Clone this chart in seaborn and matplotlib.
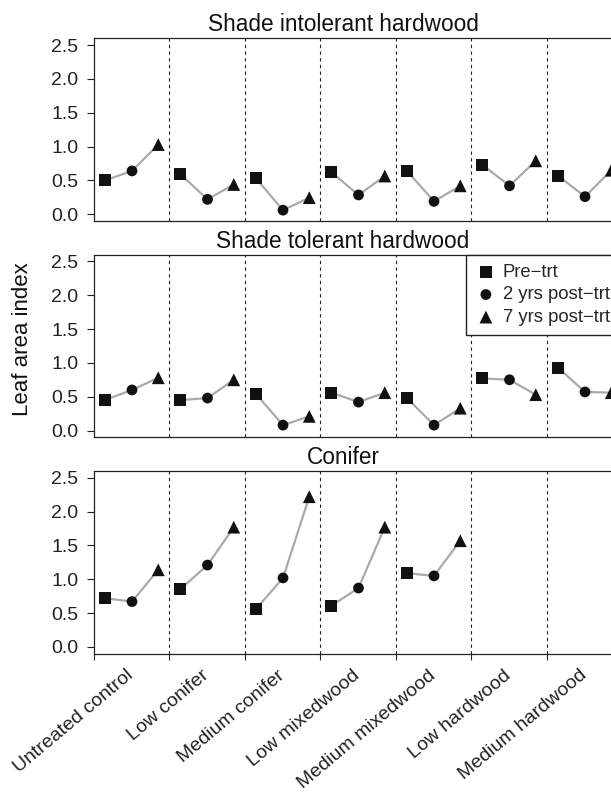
import numpy as np
import pandas as pd
import matplotlib
matplotlib.use('Agg')
import matplotlib.pyplot as plt
import seaborn as sns

# treatments (x categories) and panels
treatments = ['Untreated control', 'Low conifer', 'Medium conifer', 'Low mixedwood',
              'Medium mixedwood', 'Low hardwood', 'Medium hardwood']
panels = ['Shade intolerant hardwood', 'Shade tolerant hardwood', 'Conifer']
times = ['Pre\u2212trt', '2 yrs post\u2212trt', '7 yrs post\u2212trt']

# leaf area index
pre_intol = [0.50, 0.59, 0.53, 0.62, 0.64, 0.73, 0.57]
post2_intol = [0.64, 0.22, 0.06, 0.285, 0.19, 0.42, 0.26]
post7_intol = [1.03, 0.44, 0.245, 0.565, 0.42, 0.79, 0.65]

pre_tol = [0.45, 0.45, 0.54, 0.56, 0.48, 0.77, 0.93]
post2_tol = [0.60, 0.48, 0.08, 0.42, 0.08, 0.75, 0.57]
post7_tol = [0.78, 0.75, 0.21, 0.56, 0.33, 0.53, 0.56]

pre_con = [0.72, 0.855, 0.56, 0.61, 1.09, np.nan, np.nan]
post2_con = [0.67, 1.21, 1.02, 0.87, 1.05, np.nan, np.nan]
post7_con = [1.14, 1.77, 2.22, 1.77, 1.57, np.nan, np.nan]

values = {
    panels[0]: [pre_intol, post2_intol, post7_intol],
    panels[1]: [pre_tol, post2_tol, post7_tol],
    panels[2]: [pre_con, post2_con, post7_con],
}

# within-group offsets of the three time points
offsets = [0.152, 0.51, 0.858]

rows = []
for p in panels:
    for t_i, t in enumerate(times):
        for g_i, trt in enumerate(treatments):
            rows.append({'panel': p, 'time': t, 'trt': trt,
                         'x': g_i + offsets[t_i], 'lai': values[p][t_i][g_i]})
df = pd.DataFrame(rows)

sns.set_style('ticks')
plt.rcParams['font.family'] = ['Liberation Sans', 'DejaVu Sans']
plt.rcParams['axes.linewidth'] = 0.9

fig = plt.figure(figsize=(6.11, 7.94), dpi=100)
left, width = 93.5 / 611, 528.5 / 611
bottoms = [1 - 221 / 794, 1 - 437.3 / 794, 1 - 653.7 / 794]
height = 182.7 / 794

markers = {times[0]: ('s', 75), times[1]: ('o', 60), times[2]: ('^', 85)}

axes = []
for i, p in enumerate(panels):
    ax = fig.add_axes([left, bottoms[i], width, height])
    axes.append(ax)
    sub = df[df['panel'] == p].dropna()

    sns.lineplot(data=sub, x='x', y='lai', units='trt', estimator=None,
                 color='#aaaaaa', linewidth=1.6, ax=ax, legend=False, zorder=2)
    for t in times:
        m, sz = markers[t]
        sns.scatterplot(data=sub[sub['time'] == t], x='x', y='lai', marker=m, s=sz,
                        color='#111111', edgecolor='none', ax=ax, label=t, zorder=3)

    for b in range(1, 7):
        ax.axvline(b, color='#222222', linestyle=(0, (3, 3)), linewidth=0.8, zorder=1)

    ax.set_xlim(0, 7)
    ax.set_ylim(-0.1, 2.6)
    ax.set_yticks([0, 0.5, 1.0, 1.5, 2.0, 2.5])
    ax.set_yticklabels(['0.0', '0.5', '1.0', '1.5', '2.0', '2.5'])
    ax.tick_params(axis='y', direction='out', length=5, width=0.8, pad=6,
                   labelsize=14, colors='#222222')
    ax.set_xlabel('')
    ax.set_ylabel('')
    ax.set_title(p, fontsize=16.3, x=0.472, pad=5, color='#111111')
    for s in ax.spines.values():
        s.set_visible(True)
        s.set_color('#222222')

    ax.set_xticks(range(0, 8))
    if i < 2:
        ax.tick_params(axis='x', bottom=False, labelbottom=False)
    else:
        ax.set_xticklabels([])
        ax.tick_params(axis='x', which='major', direction='out', length=4, width=0.8)
        ax.set_xticks(np.arange(7) + 0.5, minor=True)
        ax.set_xticklabels(treatments, minor=True, rotation=40, ha='right',
                           va='center', rotation_mode='anchor', fontsize=14,
                           color='#222222')
        ax.tick_params(axis='x', which='minor', length=0, pad=14)

    if i == 1:
        ax.legend(loc='upper left', bbox_to_anchor=(0.704, 1.0), borderaxespad=0,
                  fontsize=13.3, frameon=True, fancybox=False, edgecolor='#222222',
                  framealpha=1, handletextpad=0.3, labelspacing=0.3,
                  handlelength=1.2, borderpad=0.5)
    else:
        leg = ax.get_legend()
        if leg is not None:
            leg.remove()

fig.text(0.037, 0.573, 'Leaf area index', rotation=90, fontsize=16,
         ha='center', va='center', color='#111111')

fig.savefig('out.png', dpi=100)
